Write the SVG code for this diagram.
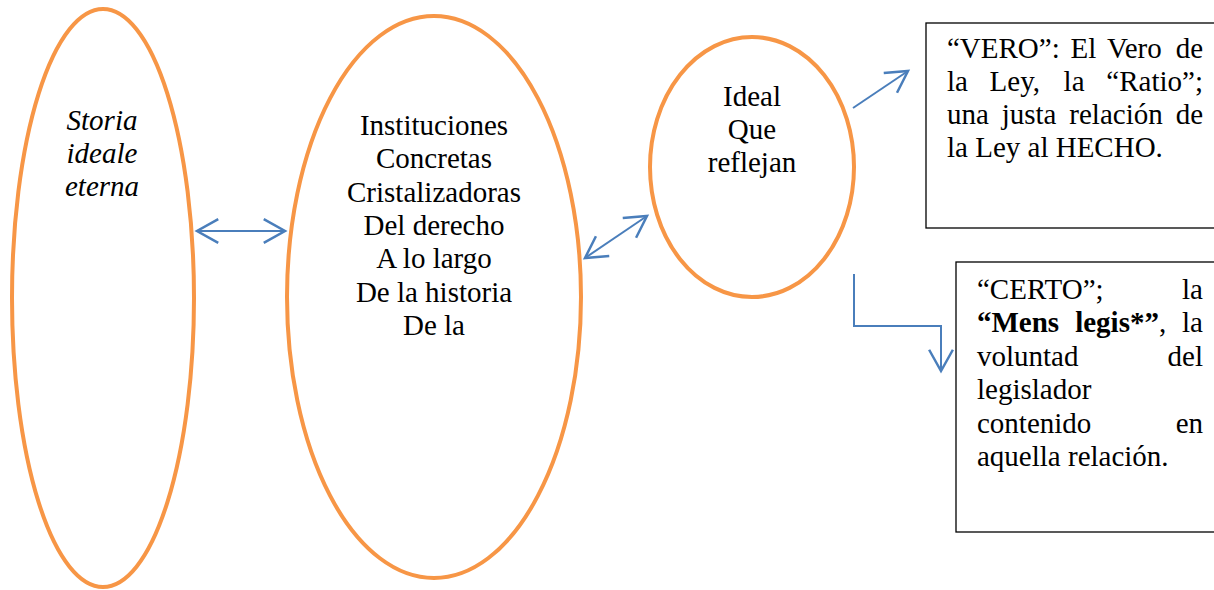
<svg xmlns="http://www.w3.org/2000/svg" width="1214" height="590" viewBox="0 0 1214 590">
<style>
.ell{fill:#fff;stroke:#F79646;stroke-width:4}
.box{fill:#fff;stroke:#000;stroke-width:1.3}
.t{font-family:'Liberation Serif','Times New Roman',Tinos,'DejaVu Serif',serif;font-size:29px;fill:#000}
.c{text-anchor:middle}
.e{text-anchor:end}
.i{font-style:italic}
.b{font-weight:bold}
.con{fill:none;stroke:#4A7EBB;stroke-width:2}
</style>
<defs>
<marker id="ah" markerUnits="userSpaceOnUse" markerWidth="30" markerHeight="30" viewBox="-20 -12 24 24" refX="0" refY="0" orient="auto-start-reverse">
<path d="M-17,-9.5 L0,0 L-17,9.5" fill="none" stroke="#4A7EBB" stroke-width="2"/>
</marker>
</defs>
<rect width="1214" height="590" fill="#fff"/>
<g id="node-storia">
<ellipse class="ell" cx="103" cy="298" rx="91" ry="289"/>
<text class="t c i" x="102" y="130">Storia</text>
<text class="t c i" x="102" y="163">ideale</text>
<text class="t c i" x="102" y="196">eterna</text>
</g>
<g id="node-instituciones">
<ellipse class="ell" cx="434" cy="297" rx="147" ry="281"/>
<text class="t c" x="434" y="135">Instituciones</text>
<text class="t c" x="434" y="168">Concretas</text>
<text class="t c" x="434" y="202">Cristalizadoras</text>
<text class="t c" x="434" y="235">Del derecho</text>
<text class="t c" x="434" y="268">A lo largo</text>
<text class="t c" x="434" y="302">De la historia</text>
<text class="t c" x="434" y="335">De la</text>
</g>
<g id="node-ideal">
<ellipse class="ell" cx="752" cy="167" rx="102" ry="130"/>
<text class="t c" x="752" y="106">Ideal</text>
<text class="t c" x="752" y="139">Que</text>
<text class="t c" x="752" y="172">reflejan</text>
</g>
<g id="node-vero">
<rect class="box" x="926" y="23" width="300" height="205"/>
<text class="t" y="58"><tspan x="947">“VERO”:</tspan><tspan x="1070.5">El</tspan><tspan x="1107">Vero</tspan></text>
<text class="t e" x="1203" y="58">de</text>
<text class="t" y="91"><tspan x="947">la</tspan><tspan x="989.6">Ley,</tspan><tspan x="1063.6">la</tspan></text>
<text class="t e" x="1203" y="91">“Ratio”;</text>
<text class="t" y="124"><tspan x="947">una</tspan><tspan x="1001.7">justa</tspan><tspan x="1069.3">relación</tspan></text>
<text class="t e" x="1203" y="124">de</text>
<text class="t" x="947" y="157">la Ley al HECHO.</text>
</g>
<g id="node-certo">
<rect class="box" x="956" y="262" width="300" height="270"/>
<text class="t" x="977" y="299">“CERTO”;</text>
<text class="t e" x="1203" y="299">la</text>
<text class="t" y="332"><tspan class="b" x="977">“Mens</tspan><tspan class="b" x="1075.2">legis*”</tspan><tspan>,</tspan></text>
<text class="t e" x="1203" y="332">la</text>
<text class="t" x="977" y="366">voluntad</text>
<text class="t e" x="1203" y="366">del</text>
<text class="t" x="977" y="399">legislador</text>
<text class="t" x="977" y="433">contenido</text>
<text class="t e" x="1203" y="433">en</text>
<text class="t" x="977" y="466">aquella relación.</text>
</g>
<g id="connectors">
<line class="con" x1="197" y1="231" x2="285" y2="231" marker-start="url(#ah)" marker-end="url(#ah)"/>
<line class="con" x1="585" y1="258" x2="647" y2="216" marker-start="url(#ah)" marker-end="url(#ah)"/>
<line class="con" x1="853" y1="108" x2="908" y2="71" marker-end="url(#ah)"/>
<path class="con" d="M854,274 V326 H941 V371" marker-end="url(#ah)"/>
</g>
</svg>
